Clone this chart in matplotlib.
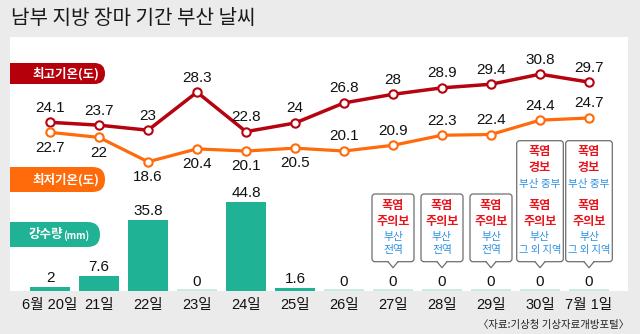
import matplotlib
matplotlib.use('Agg')
import matplotlib.pyplot as plt
from matplotlib.patches import FancyBboxPatch, Rectangle, Polygon
from matplotlib.lines import Line2D
import numpy as np

# ---------------- data ----------------
days = ['6월 20일', '21일', '22일', '23일', '24일', '25일', '26일',
        '27일', '28일', '29일', '30일', '7월 1일']
t_max = [24.1, 23.7, 23.0, 28.3, 22.8, 24.0, 26.8, 28.0, 28.9, 29.4, 30.8, 29.7]
t_min = [22.7, 22.0, 18.6, 20.4, 20.1, 20.5, 20.1, 20.9, 22.3, 22.4, 24.4, 24.7]
rain = [2, 7.6, 35.8, 0, 44.8, 1.6, 0, 0, 0, 0, 0, 0]
min_label_side = ['below'] * 6 + ['above'] * 6

alert_days = ['27일', '28일', '29일', '30일', '7월 1일']
alert_upper = [None, None, None, ('폭염\n경보', '부산 중부'), ('폭염\n경보', '부산 중부')]
alert_lower = [('폭염\n주의보', '부산\n전역')] * 3 + [('폭염\n주의보', '부산\n그 외 지역')] * 2

title = '남부 지방 장마 기간 부산 날씨'
source = '〈자료:기상청 기상자료개방포털〉'

# ---------------- style ----------------
KR = 'Noto Sans CJK KR'
NUM = ['Liberation Sans', KR]
C_MAX = '#b7030f'
C_MIN = '#ff6a0a'
C_RAIN = '#1fb295'
C_RAIN0 = '#c8ebe1'
C_BG = '#ebebeb'
C_ALERT = '#e8141c'
C_AREA = '#2b8fe0'

W, H = 640, 334
fig = plt.figure(figsize=(W / 100, H / 100), dpi=100, facecolor=C_BG)


def fr(x0, y0, x1, y1):
    return [x0 / W, 1 - y1 / H, (x1 - x0) / W, (y1 - y0) / H]


PX0, PY0, PX1, PY1 = 10, 37, 628, 291
ax_bar = fig.add_axes(fr(PX0, PY0, PX1, PY1))
ax_bar.set_facecolor('white')
x = np.arange(len(days))
step = 49.0
ax_bar.set_xlim((PX0 - 50) / step, (PX1 - 50) / step)
ax_bar.set_ylim(0, (PY1 - PY0) / 1.98)

# pale baseline strip under every category, then rainfall bars
ax_bar.bar(x, [0.8] * len(x), width=0.82, color=C_RAIN0, linewidth=0)
bars = ax_bar.bar(x, rain, width=0.82, color=C_RAIN, linewidth=0)
ax_bar.bar_label(bars, labels=[f'{v:g}' for v in rain], padding=1.5,
                 fontsize=11, family=NUM, color='#111111')

ax_bar.set_xticks(x, days)
for lab in ax_bar.get_xticklabels():
    lab.set_family(NUM)
    lab.set_fontsize(10.5)
    lab.set_color('#111111')
ax_bar.tick_params(axis='x', length=0, pad=5)
ax_bar.set_yticks([])
for s in ax_bar.spines.values():
    s.set_visible(False)

# temperature axis
ax_t = ax_bar.twinx()
scale = 7.18
t_lo = 22.75 - (PY1 - 132) / scale
t_hi = 22.75 + (132 - PY0) / scale
ax_t.set_ylim(t_lo, t_hi)
ax_t.set_yticks([])
for s in ax_t.spines.values():
    s.set_visible(False)
ax_t.patch.set_visible(False)

ax_t.plot(x, t_max, color=C_MAX, lw=2.5, marker='o', ms=6, mfc='white',
          mec=C_MAX, mew=1.5, zorder=3)
ax_t.plot(x, t_min, color=C_MIN, lw=2.3, marker='o', ms=6, mfc='white',
          mec=C_MIN, mew=1.5, zorder=3)
for xi, v in zip(x, t_max):
    ax_t.annotate(f'{v:g}', (xi, v), xytext=(0, 10.5), textcoords='offset points',
                  ha='center', va='center', fontsize=11, family=NUM, color='#111111')
for xi, v, side in zip(x, t_min, min_label_side):
    off = 10.5 if side == 'above' else -11
    ax_t.annotate(f'{v:g}', (xi, v), xytext=(0, off), textcoords='offset points',
                  ha='center', va='center', fontsize=11, family=NUM, color='#111111')

# ---------------- overlay (pixel coordinates) ----------------
ov = fig.add_axes([0, 0, 1, 1], zorder=10)
ov.set_xlim(0, W)
ov.set_ylim(H, 0)
ov.axis('off')
ov.patch.set_visible(False)

ov.text(11, 18, title, fontsize=14.5, family=KR, color='#1a1a1a', va='center', ha='left')
ov.text(629, 325, source, fontsize=7.5, family=KR, color='#222222', va='center', ha='right')

clip = Rectangle((PX0, 0), W, H, transform=ov.transData)


def pill(y0, y1, xr, color):
    h = y1 - y0
    p = FancyBboxPatch((-30, y0), xr + 30, h,
                       boxstyle=f'round,pad=0,rounding_size={h / 2}',
                       fc=color, ec='none')
    ov.add_patch(p)
    p.set_clip_path(clip)


pill(63, 84, 105, '#b5000c')
ov.text(99, 73.5, '최고기온(도)', fontsize=9, family=KR, fontweight='bold',
        color='white', ha='right', va='center')
pill(167, 192, 105, C_MIN)
ov.text(99, 179.5, '최저기온(도)', fontsize=9, family=KR, fontweight='bold',
        color='white', ha='right', va='center')
pill(222, 247, 100, C_RAIN)
ov.text(63, 234.5, '강수량', fontsize=9, family=KR, fontweight='bold',
        color='white', ha='right', va='center')
ov.text(63, 235.5, '(mm)', fontsize=7, family=KR, fontweight='bold',
        color='white', ha='left', va='center')


def xpx(i):
    return ax_t.transData.transform((i, 0))[0]


box_bottom = 261.7
RED_KW = dict(fontsize=8.7, family=KR, fontweight='bold', color=C_ALERT,
              ha='center', va='center')
BLUE_KW = dict(family=KR, color=C_AREA, ha='center', va='center')
for d, up, low in zip(alert_days, alert_upper, alert_lower):
    cx = xpx(days.index(d))
    wbox = 42 if up is None else 46.6
    top = 194 if up is None else 140.7
    box = FancyBboxPatch((cx - wbox / 2, top), wbox, box_bottom - top,
                         boxstyle='round,pad=0,rounding_size=3',
                         fc='white', ec='#6e6e6e', lw=0.9)
    ov.add_patch(box)
    ov.add_patch(Polygon([(cx - 5, box_bottom - 1), (cx, box_bottom + 6),
                          (cx + 5, box_bottom - 1)], closed=True, fc='white', ec='none'))
    ov.add_line(Line2D([cx - 5, cx, cx + 5], [box_bottom, box_bottom + 6, box_bottom],
                       color='#6e6e6e', lw=0.9))
    if up is not None:
        r1, r2 = up[0].split('\n')
        ov.text(cx, 151.7, r1, **RED_KW)
        ov.text(cx, 168.0, r2, **RED_KW)
        ov.text(cx, 184.3, up[1], fontsize=7.6, **BLUE_KW)
    r1, r2 = low[0].split('\n')
    ov.text(cx, 205.5, r1, **RED_KW)
    ov.text(cx, 221.0, r2, **RED_KW)
    a1, a2 = low[1].split('\n')
    ov.text(cx, 237.2, a1, fontsize=7.8, **BLUE_KW)
    ov.text(cx, 250.5, a2, fontsize=7.8 if len(a2) < 4 else 7.4, **BLUE_KW)

fig.savefig('out.png', dpi=100, facecolor=C_BG)
